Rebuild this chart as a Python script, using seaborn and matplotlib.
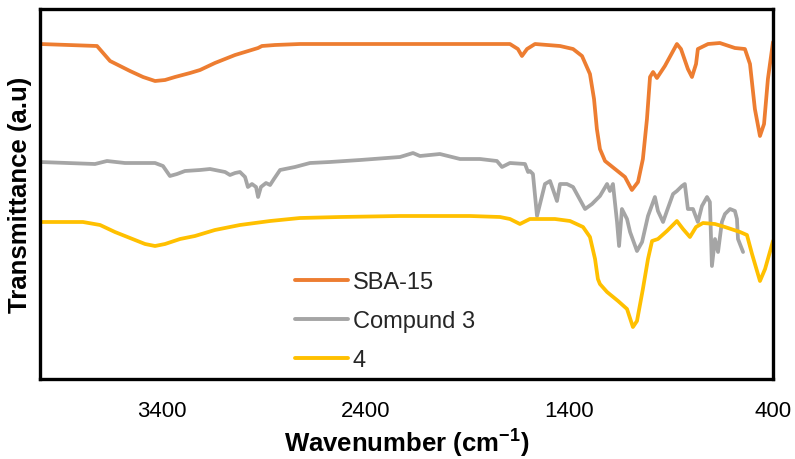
import numpy as np
import pandas as pd
import matplotlib
matplotlib.use("Agg")
import matplotlib.pyplot as plt
import seaborn as sns

# FTIR spectra: wavenumber (cm-1) and transmittance (arbitrary units, offset per sample)
sba15_wn = [4000, 3720, 3656, 3607, 3558, 3494, 3435, 3386, 3337, 3263, 3214, 3141,
            3042, 2929, 2910, 2846, 2723, 2232, 1692, 1653, 1633, 1608, 1569, 1446,
            1382, 1338, 1299, 1279, 1265, 1250, 1225, 1176, 1127, 1093, 1063, 1039,
            1019, 1004, 989, 970, 931, 872, 852, 818, 798, 778, 769, 719, 661, 587,
            538, 513, 489, 464, 444, 425, 400]
sba15_t = [335, 333, 318, 313, 308, 302, 298, 299, 302, 306, 309, 316,
           324, 331, 333, 334, 335, 335, 335, 330, 323, 330, 335, 333,
           330, 323, 305, 280, 250, 230, 218, 210, 202, 189, 197, 220,
           260, 302, 307, 301, 313, 335, 330, 310, 302, 315, 330, 335, 336, 331,
           330, 315, 270, 243, 255, 300, 337]

comp3_wn = [4000, 3730, 3671, 3583, 3435, 3396, 3362, 3327, 3288, 3214, 3165, 3091,
            3067, 3042, 3018, 2993, 2979, 2959, 2939, 2929, 2915, 2890, 2870, 2851,
            2821, 2748, 2674, 2576, 2428, 2232, 2168, 2134, 2036, 1937, 1839, 1756,
            1731, 1692, 1618, 1603, 1594, 1579, 1559, 1520, 1495, 1461, 1446, 1412,
            1382, 1323, 1289, 1250, 1215, 1201, 1186, 1166, 1156, 1142, 1117, 1102,
            1068, 1043, 1014, 980, 965, 940, 921, 891, 872, 847, 833, 818, 793, 769,
            749, 724, 710, 700, 685, 670, 651, 636, 611, 587, 577, 572, 547]
comp3_t = [217, 215, 218, 216, 216, 213, 203, 205, 208, 209, 210, 207,
           204, 206, 207, 202, 192, 195, 192, 182, 192, 196, 194, 200,
           209, 212, 216, 217, 219, 222, 226, 223, 225, 220, 220, 218,
           212, 216, 215, 207, 208, 205, 163, 195, 198, 178, 195, 195,
           192, 170, 175, 183, 195, 188, 195, 157, 133, 170, 160, 147,
           128, 137, 163, 182, 168, 157, 168, 185, 188, 193, 195, 170, 170, 157,
           173, 182, 177, 113, 140, 127, 157, 165, 170, 168, 160, 140, 127]

s4_wn = [4000, 3789, 3705, 3632, 3558, 3484, 3435, 3386, 3312, 3239, 3141, 3018,
         2870, 2723, 2527, 2232, 1888, 1741, 1692, 1643, 1594, 1545, 1471, 1397,
         1333, 1299, 1274, 1260, 1250, 1215, 1161, 1117, 1088, 1068, 1039, 1014,
         994, 965, 921, 872, 842, 808, 778, 744, 685, 636, 562, 528, 503, 464,
         439, 400]
s4_t = [157, 157, 154, 147, 141, 135, 133, 135, 140, 143, 149, 154,
        158, 161, 162, 163, 163, 162, 160, 155, 160, 160, 160, 158,
        152, 142, 120, 100, 95, 87, 78, 70, 52, 58, 90, 120,
        138, 140, 148, 158, 150, 142, 152, 156, 155, 152, 147, 144, 125, 98,
        110, 138]

series_names = ["SBA-15", "Compund 3", "4"]
series_colors = ["#ED7D31", "#A5A5A5", "#FFC000"]
x_ticks = [3400, 2400, 1400, 400]

df = pd.concat([
    pd.DataFrame({"wn": sba15_wn, "t": sba15_t, "sample": series_names[0]}),
    pd.DataFrame({"wn": comp3_wn, "t": comp3_t, "sample": series_names[1]}),
    pd.DataFrame({"wn": s4_wn, "t": s4_t, "sample": series_names[2]}),
], ignore_index=True)

sns.set_theme(style="white")
plt.rcParams["font.family"] = ["Liberation Sans", "DejaVu Sans"]
plt.rcParams["mathtext.fontset"] = "custom"
plt.rcParams["mathtext.rm"] = "Liberation Sans"
plt.rcParams["mathtext.bf"] = "Liberation Sans:bold"

fig = plt.figure(figsize=(7.95, 4.6), dpi=100)
ax = fig.add_axes([40 / 795, 1 - 380 / 460, 733 / 795, 370 / 460])

sns.lineplot(data=df, x="wn", y="t", hue="sample", hue_order=series_names,
             palette=series_colors, estimator=None, sort=False, linewidth=2.7,
             ax=ax)
for ln in ax.get_lines():
    ln.set_solid_joinstyle("round")
    ln.set_solid_capstyle("round")

ax.set_xlim(4000, 400)
ax.set_ylim(0, 370)
ax.set_xticks(x_ticks)
ax.set_xticklabels([str(v) for v in x_ticks], fontsize=16, color="black")
ax.set_yticks([])
ax.tick_params(axis="x", length=0, pad=15)

for sp in ax.spines.values():
    sp.set_visible(True)
    sp.set_color("black")
    sp.set_linewidth(2.4)

ax.set_xlabel(r"Wavenumber (cm$^{\mathbf{-1}}$)", fontsize=18.5, fontweight="bold",
              color="black", labelpad=3)
ax.set_ylabel("Transmittance (a.u)", fontsize=18.5, fontweight="bold",
              color="black", labelpad=6)

leg = ax.legend(loc="upper left", bbox_to_anchor=(0.335, 0.318), frameon=False,
                fontsize=17, handlelength=2.25, handletextpad=0.2,
                labelspacing=0.72, borderaxespad=0)
for h in leg.get_lines():
    h.set_linewidth(2.8)

fig.savefig("out.png", dpi=100)
